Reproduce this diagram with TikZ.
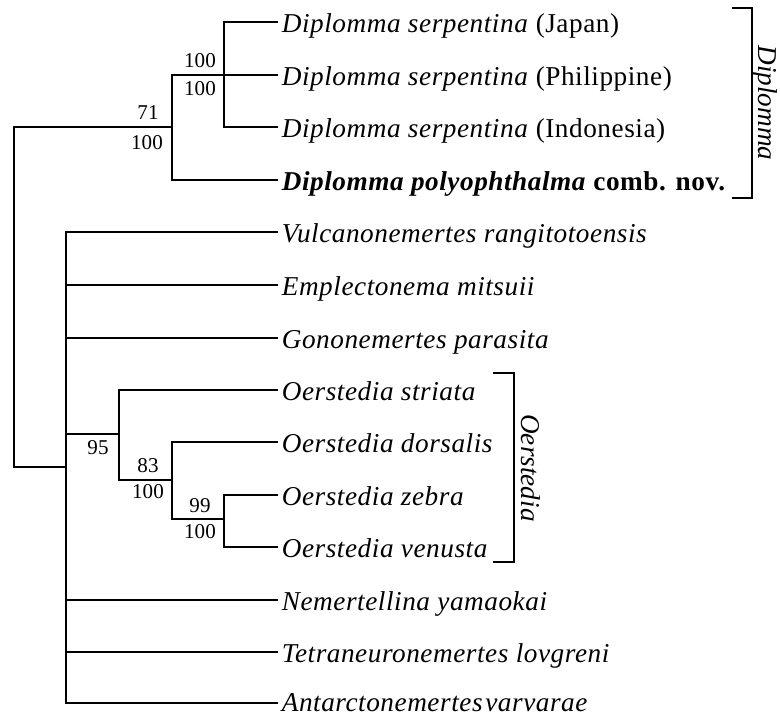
\documentclass[tikz,border=0pt]{standalone}
\usepackage{fontspec}
\setmainfont{Liberation Serif}

\begin{document}
\begin{tikzpicture}[x=0.02cm,y=-0.02cm]
	\useasboundingbox (0,0) rectangle (780,717);

	% internal nodes
	\coordinate (root) at (14,297);
	\coordinate (nDip) at (172,127);
	\coordinate (nSer) at (224,75);
	\coordinate (nPol) at (66,467);
	\coordinate (nOer) at (119,434);
	\coordinate (nDor) at (172,480);
	\coordinate (nZeb) at (224,519);

	% leaf tips
	\coordinate (t1) at (278,22);
	\coordinate (t2) at (278,75);
	\coordinate (t3) at (278,127);
	\coordinate (t4) at (278,180);
	\coordinate (t5) at (278,232);
	\coordinate (t6) at (278,285);
	\coordinate (t7) at (278,338);
	\coordinate (t8) at (278,390);
	\coordinate (t9) at (278,442);
	\coordinate (t10) at (278,495);
	\coordinate (t11) at (278,547);
	\coordinate (t12) at (278,600);
	\coordinate (t13) at (278,652);
	\coordinate (t14) at (278,703);

	\begin{scope}[every node/.style={anchor=base west,inner sep=0pt,xshift=0.07cm,yshift=-0.215cm,
		font=\fontsize{15.5}{18}\selectfont\itshape\addfontfeatures{LetterSpace=2}}]
		\node (japan) at (t1) {Diplomma serpentina \textup{(Japan)}};
		\node (phil) at (t2) {Diplomma serpentina \textup{(Philippine)}};
		\node (indo) at (t3) {Diplomma serpentina \textup{(Indonesia)}};
		\node (poly) at (t4) {\bfseries Diplomma polyophthalma \textup{comb. nov.}};
		\node (vulc) at (t5) {Vulcanonemertes rangitotoensis};
		\node (empl) at (t6) {Emplectonema mitsuii};
		\node (gono) at (t7) {Gononemertes parasita};
		\node (stri) at (t8) {Oerstedia striata};
		\node (dors) at (t9) {Oerstedia dorsalis};
		\node (zebr) at (t10) {Oerstedia zebra};
		\node (venu) at (t11) {Oerstedia venusta};
		\node (neme) at (t12) {Nemertellina yamaokai};
		\node (tetr) at (t13) {Tetraneuronemertes lovgreni};
		\node[yshift=0.04cm] (anta) at (t14) {Antarctonemertes\kern0.1em varvarae};
	\end{scope}

	\begin{scope}[line width=1.1pt]
		\draw (root) |- (nDip);
		\draw (root) |- (nPol);

		\draw (nDip) |- (nSer);
		\draw (nDip) |- (t4);
		\draw (nSer) |- (t1);
		\draw (nSer) -- (t2);
		\draw (nSer) |- (t3);

		\draw (nPol) |- (t5);
		\draw (nPol) |- (t6);
		\draw (nPol) |- (t7);
		\draw (nPol) |- (nOer);
		\draw (nPol) |- (t12);
		\draw (nPol) |- (t13);
		\draw (nPol) |- (t14);

		\draw (nOer) |- (t8);
		\draw (nOer) |- (nDor);
		\draw (nDor) |- (t9);
		\draw (nDor) |- (nZeb);
		\draw (nZeb) |- (t10);
		\draw (nZeb) |- (t11);
	\end{scope}

	% support values
	\begin{scope}[every node/.style={inner sep=0pt,font=\fontsize{12}{14}\selectfont}]
		\node (bSerA) at (200,61) {100};
		\node (bSerB) at (200,89) {100};
		\node (bDipA) at (148,113) {71};
		\node (bDipB) at (147,143) {100};
		\node (bOer) at (98,448) {95};
		\node (bDorA) at (148,466) {83};
		\node (bDorB) at (148,492) {100};
		\node (bZebA) at (200,506) {99};
		\node (bZebB) at (200,532) {100};
	\end{scope}

	% clade brackets
	\draw[line width=1pt] (732,8) -- (752,8) -- (752,198) -- (732,198);
	\draw[line width=1pt] (493,373) -- (514,373) -- (514,562) -- (493,562);
	\begin{scope}[every node/.style={rotate=-90,inner sep=0pt,font=\fontsize{15.5}{18}\selectfont\itshape}]
		\node (cDip) at (765,103) {Diplomma};
		\node (cOer) at (531,468) {Oerstedia};
	\end{scope}
\end{tikzpicture}
\end{document}
